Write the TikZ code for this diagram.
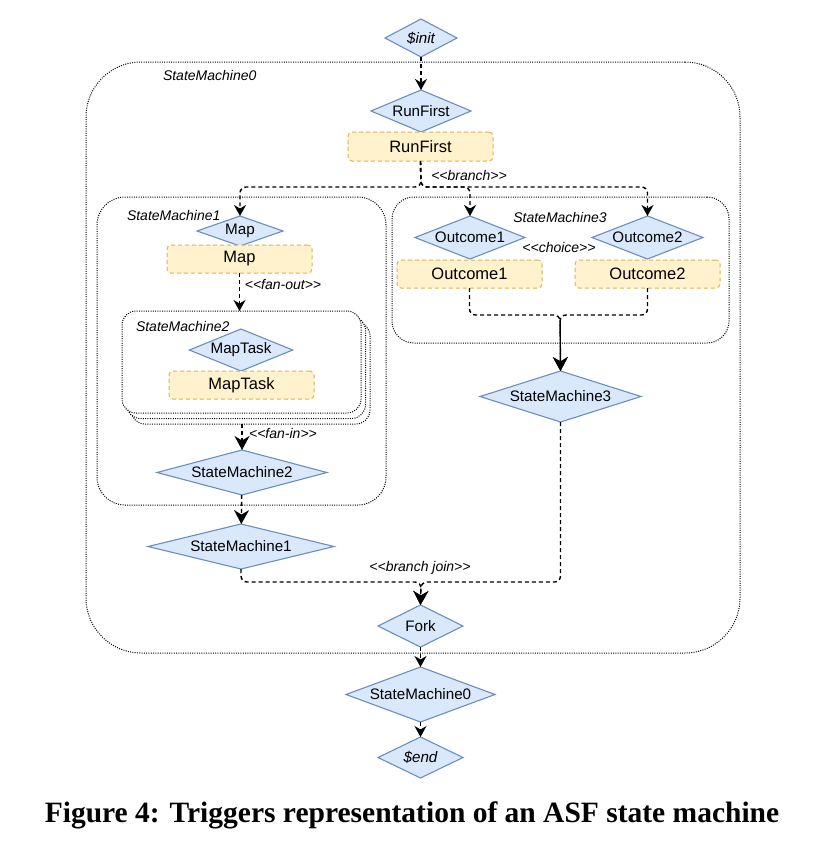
\documentclass[tikz,border=0pt]{standalone}
\usepackage{fontspec}
\setmainfont{Liberation Sans}[Ligatures=TeXOff]
\newfontfamily\capfont{Liberation Serif}
\usetikzlibrary{shapes.geometric,arrows.meta}
\definecolor{diaFill}{HTML}{DAE8FC}
\definecolor{diaLine}{HTML}{6C8EBF}
\definecolor{trgFill}{HTML}{FFF2CC}
\definecolor{trgLine}{HTML}{D6B656}
\begin{document}
\begin{tikzpicture}[y=1pt, x=1pt, yscale=-1, inner sep=0pt, outer sep=0pt,
  dia/.style={diamond, aspect=3, draw=diaLine, fill=diaFill, line width=1.1pt, font=\fontsize{15.2}{18}\selectfont},
  trg/.style={rectangle, rounded corners=4pt, draw=trgLine, fill=trgFill, line width=1pt, dash pattern=on 4pt off 3pt, minimum width=145pt, minimum height=28pt, font=\fontsize{16.5}{19}\selectfont},
  frame/.style={rectangle, draw=black, line width=1pt, dash pattern=on 1pt off 1.3pt, fill=white},
  lbl/.style={font=\fontsize{14}{17}\selectfont\itshape},
  flow/.style={draw=black, line width=1.4pt, dash pattern=on 4pt off 3pt, rounded corners=6pt, -{Stealth[length=11pt,width=12pt,inset=3.5pt]}},
  bigflow/.style={flow, -{Stealth[length=14pt,width=15pt,inset=4.5pt]}}]
\useasboundingbox (0,0) rectangle (835,862);
% frames
\node[frame, minimum width=654pt, minimum height=591pt, rounded corners=55pt] (sm0box) at (413,357.5) {};
\node[lbl, anchor=west] (sm0lbl) at (163,75) {StateMachine0};
\node[frame, minimum width=289pt, minimum height=308pt, rounded corners=28pt] (sm1box) at (241.5,351) {};
\node[lbl, anchor=west] (sm1lbl) at (127,215) {StateMachine1};
\node[frame, minimum width=337pt, minimum height=146pt, rounded corners=22pt] (sm3box) at (560.5,270) {};
\node[lbl] (sm3lbl) at (560,217) {StateMachine3};
\node[frame, minimum width=239pt, minimum height=102pt, rounded corners=14pt] (sm2boxc) at (250.5,373) {};
\node[frame, minimum width=239pt, minimum height=102pt, rounded corners=14pt] (sm2boxb) at (246,367.5) {};
\node[frame, minimum width=239pt, minimum height=102pt, rounded corners=14pt] (sm2box) at (241.5,362) {};
\node[lbl, anchor=west] (sm2lbl) at (136,326) {StateMachine2};
% states and triggers
\node[dia, minimum width=72pt, minimum height=38pt] (init) at (421,38) {\itshape\$init};
\node[dia, minimum width=100pt, minimum height=42pt] (rfd) at (421,111) {RunFirst};
\node[trg, minimum height=29pt] (rfbox) at (420.5,146.5) {RunFirst};
\node[dia, minimum width=86pt, minimum height=30pt] (mapd) at (240,231) {Map};
\node[trg] (mapbox) at (239.5,259) {Map};
\node[dia, minimum width=98pt, minimum height=42pt] (taskd) at (241,350) {MapTask};
\node[trg] (taskbox) at (241.5,385) {MapTask};
\node[dia, minimum width=170pt, minimum height=45pt] (sm2d) at (242,472.5) {StateMachine2};
\node[dia, minimum width=186pt, minimum height=45pt] (sm1d) at (241,546.5) {StateMachine1};
\node[dia, minimum width=110pt, minimum height=43pt] (oc1d) at (470,237.5) {Outcome1};
\node[trg] (oc1box) at (469.5,274) {Outcome1};
\node[dia, minimum width=111pt, minimum height=43pt] (oc2d) at (647.5,237.5) {Outcome2};
\node[trg] (oc2box) at (647.5,274) {Outcome2};
\node[dia, minimum width=161pt, minimum height=51pt] (sm3d) at (560.5,396.5) {StateMachine3};
\node[dia, minimum width=85pt, minimum height=42pt] (fork) at (420.5,626) {Fork};
\node[dia, minimum width=149pt, minimum height=55pt] (sm0d) at (420.5,694.5) {StateMachine0};
\node[dia, minimum width=85pt, minimum height=41pt] (end) at (420.5,757.5) {\itshape\$end};
\coordinate (split) at (421,187);
\coordinate (choose) at (560,315);
\coordinate (bjoin) at (421,582);
% edges
\draw[flow] (init) -- (rfd);
\draw[flow] (rfbox.south) -- (split) -| (mapd.north);
\draw[flow] (rfbox.south) -- (split) -| (oc1d.north);
\draw[flow] (rfbox.south) -- (split) -| (oc2d.north);
\draw[flow] (mapbox.south) -- (mapbox.south |- sm2box.north);
\draw[bigflow] (sm2d.north |- sm2boxc.south) -- (sm2d.north);
\draw[bigflow] (sm2d) -- (sm1d);
\draw[bigflow] (oc1box.south) |- (choose) -- (sm3d.north);
\draw[bigflow] (oc2box.south) |- (choose) -- (sm3d.north);
\draw[bigflow] (sm1d.south) |- (bjoin) -- (fork.north);
\draw[bigflow] (sm3d.south) |- (bjoin) -- (fork.north);
\draw[flow] (fork) -- (sm0d);
\draw[flow] (sm0d) -- (end);
% edge labels
\node[lbl] (brlbl) at (469,175) {<<branch>>};
\node[lbl] (outlbl) at (283,284) {<<fan-out>>};
\node[lbl] (inlbl) at (283,433) {<<fan-in>>};
\node[lbl] (chlbl) at (559,247) {<<choice>>};
\node[lbl] (bjlbl) at (420,568) {<<branch join>>};
\node[anchor=base, font=\capfont\bfseries\fontsize{29.5}{33}\selectfont] (cap) at (412,822) {Figure 4: Triggers representation of an ASF state machine};
\end{tikzpicture}
\end{document}
